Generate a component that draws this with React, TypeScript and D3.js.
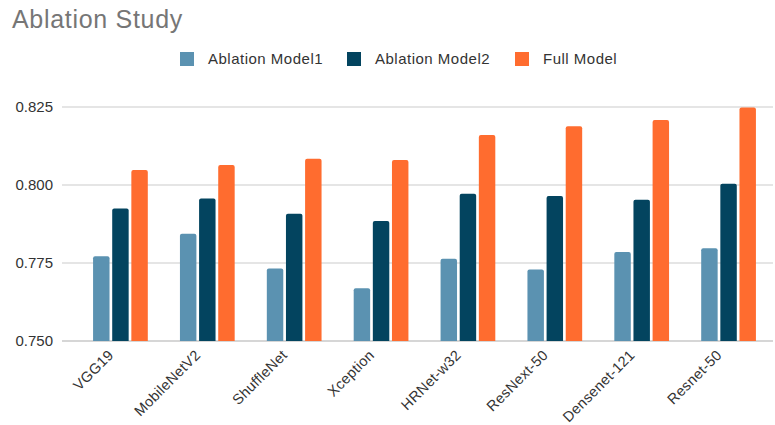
import React, { useRef, useEffect } from 'react';
import * as d3 from 'd3';

const models = ['VGG19', 'MobileNetV2', 'ShuffleNet', 'Xception', 'HRNet-w32', 'ResNext-50', 'Densenet-121', 'Resnet-50'];
const seriesNames = ['Ablation Model1', 'Ablation Model2', 'Full Model'];
const seriesColors = ['#5b92b1', '#03445f', '#ff6c2f'];
const model1 = [0.7772, 0.7844, 0.7732, 0.7669, 0.7764, 0.7729, 0.7785, 0.7797];
const model2 = [0.7925, 0.7957, 0.7908, 0.7885, 0.7972, 0.7965, 0.7953, 0.8004];
const fullModel = [0.8048, 0.8064, 0.8084, 0.8080, 0.8160, 0.8188, 0.8208, 0.8248];
const yTicks = [0.75, 0.775, 0.8, 0.825];

const App = () => {
  const svgRef = useRef<SVGSVGElement>(null);

  useEffect(() => {
    const width = 775;
    const height = 425;
    const svg = d3.select(svgRef.current);
    svg.selectAll('*').remove();
    svg.attr('width', width).attr('height', height)
      .style('font-family', 'Liberation Sans, Arial, sans-serif');

    const values = [model1, model2, fullModel];

    const x = d3.scaleBand().domain(models).range([77, 772]).paddingInner(0.37).paddingOuter(0.185);
    const xs = d3.scaleBand().domain(seriesNames).range([0, x.bandwidth()]).paddingInner(0.14);
    const y = d3.scaleLinear().domain([0.75, 0.825]).range([341, 107]);

    // title
    svg.append('text')
      .attr('x', 12).attr('y', 28)
      .attr('fill', '#767676')
      .style('font-size', '25px')
      .style('letter-spacing', '0.7px')
      .text('Ablation Study');

    // legend
    const legendX = [180, 347, 515];
    const legend = svg.append('g');
    seriesNames.forEach((name, i) => {
      legend.append('rect')
        .attr('x', legendX[i]).attr('y', 52)
        .attr('width', 14).attr('height', 14)
        .attr('fill', seriesColors[i]);
      legend.append('text')
        .attr('x', legendX[i] + 28).attr('y', 64)
        .attr('fill', '#333')
        .style('font-size', '15px')
        .style('letter-spacing', '0.5px')
        .text(name);
    });

    // grid + y labels
    const grid = svg.append('g');
    yTicks.forEach(t => {
      grid.append('line')
        .attr('x1', 62).attr('x2', 773)
        .attr('y1', y(t)).attr('y2', y(t))
        .attr('stroke', t === 0.75 ? '#c8c8c8' : '#dcdcdc')
        .attr('stroke-width', 1.3);
      grid.append('text')
        .attr('x', 53).attr('y', y(t))
        .attr('dy', '0.35em')
        .attr('text-anchor', 'end')
        .attr('fill', '#333')
        .style('font-size', '15px')
        .text(d3.format('.3f')(t));
    });

    // bars
    const barPath = (x0: number, w: number, yTop: number, yBottom: number) => {
      const r = 2;
      return `M${x0},${yBottom}V${yTop + r}Q${x0},${yTop} ${x0 + r},${yTop}H${x0 + w - r}Q${x0 + w},${yTop} ${x0 + w},${yTop + r}V${yBottom}Z`;
    };
    const bars = svg.append('g');
    models.forEach((m, i) => {
      seriesNames.forEach((s, j) => {
        const bx = (x(m) as number) + (xs(s) as number);
        bars.append('path')
          .attr('d', barPath(bx, xs.bandwidth(), y(values[j][i]), y(0.75)))
          .attr('fill', seriesColors[j]);
      });
    });

    // x labels
    const xl = svg.append('g');
    models.forEach(m => {
      const cx = (x(m) as number) + x.bandwidth() / 2;
      xl.append('text')
        .attr('transform', `translate(${cx - 6},${356}) rotate(-45)`)
        .attr('text-anchor', 'end')
        .attr('fill', '#333')
        .style('font-size', '14.5px')
        .style('letter-spacing', '0.3px')
        .text(m);
    });
  }, []);

  return <svg ref={svgRef} style={{ position: 'absolute', left: 0, top: 0 }} />;
};

export default App;
